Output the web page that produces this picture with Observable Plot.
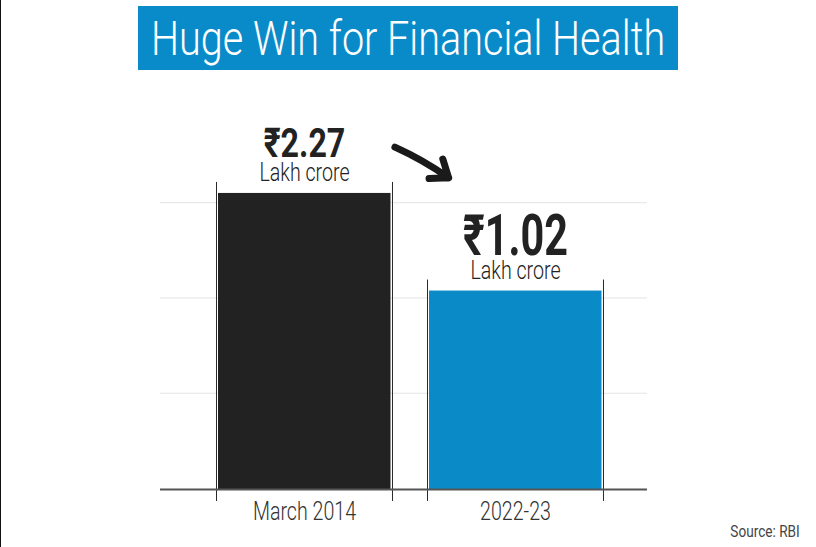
<!DOCTYPE html>
<html>
<head>
<meta charset="utf-8">
<script src="https://cdn.jsdelivr.net/npm/d3@7"></script>
<script src="https://cdn.jsdelivr.net/npm/@observablehq/plot@0.6"></script>
<style>
  html, body { margin: 0; padding: 0; background: #ffffff; width: 816px; height: 547px; overflow: hidden; }
  body { font-family: Roboto, "Noto Sans", sans-serif; }
  #page { position: relative; width: 816px; height: 547px; }
  #edge { position: absolute; left: 0; top: 0; width: 1px; height: 547px; background: #111; }
  #titlebox { position: absolute; left: 138px; top: 6px; width: 540px; height: 64px; background: #0a8bc9;
              display: flex; align-items: center; justify-content: center; overflow: hidden; }
  #title { color: #fff; font-size: 49px; line-height: 1; white-space: nowrap; font-weight: 300;
           transform: scaleX(0.808); transform-origin: 50% 50%; }
  #chart { position: absolute; left: 0; top: 76px; }
  #source { position: absolute; right: 16px; top: 521px; font-size: 17px; color: #444; white-space: nowrap;
            transform: scaleX(0.8); transform-origin: 100% 50%; }
</style>
</head>
<body>
<div id="page">
  <div id="edge"></div>
  <div id="titlebox"><div id="title"></div></div>
  <div id="chart"></div>
  <div id="source"></div>
</div>
<script>
// ---- data ----
const titleText = "Huge Win for Financial Health";
const sourceText = "Source: RBI";
const categories = ["March 2014", "2022-23"];
const values = [2.27, 1.02];
const valueLabels = ["₹2.27", "₹1.02"];
const unitLabels = ["Lakh crore", "Lakh crore"];
const gridValues = [0.24, 0.95, 2.13];
// annotation arrow: from above the first bar toward the second bar (value units)
const arrowFrom = [categories[0], 3.51];
const arrowTo = [categories[1], 1.60];

// ---- styles / layout ----
const barColors = ["#222222", "#0a8ac7"];
const COND = 0.785;
const COND_BIG = 0.725;
const W = 816, H = 455;
const bandRange = [215.5, 602.5];
const padInner = 0.166;
const half = d3.scaleBand(categories, bandRange).paddingInner(padInner).paddingOuter(0).bandwidth() / 2;

document.getElementById("title").textContent = titleText;
document.getElementById("source").textContent = sourceText;

const data = categories.map((c, i) => ({category: c, value: values[i], label: valueLabels[i], unit: unitLabels[i]}));
const first = data.filter((d, i) => i === 0);
const second = data.filter((d, i) => i === 1);

const chart = Plot.plot({
  width: W,
  height: H,
  marginLeft: 160,
  marginRight: 169,
  marginTop: 20,
  marginBottom: 42,
  style: {background: "transparent", fontFamily: "Roboto, 'Noto Sans', sans-serif"},
  x: {domain: categories, range: bandRange, paddingInner: padInner, paddingOuter: 0, label: null},
  y: {type: "sqrt", domain: [0, 4], axis: null},
  color: {domain: categories, range: barColors},
  marks: [
    Plot.ruleY(gridValues, {stroke: "#e4e4e4", strokeWidth: 1}),
    Plot.barY(data, {x: "category", y: "value", fill: "category", insetLeft: 2, insetRight: 1.5}),
    Plot.ruleX(data, {x: "category", y1: "value", y2: 0, dx: -half, insetTop: -11, insetBottom: -12, stroke: "#2a2a2a", strokeWidth: 1}),
    Plot.ruleX(data, {x: "category", y1: "value", y2: 0, dx: half, insetTop: -11, insetBottom: -12, stroke: "#2a2a2a", strokeWidth: 1}),
    Plot.ruleY([0], {stroke: "#555", strokeWidth: 2}),
    Plot.text(first, {x: "category", y: "value", text: "label", dy: -36, lineAnchor: "bottom", fontSize: 41, fontWeight: 700, fill: "#222"}),
    Plot.text(second, {x: "category", y: "value", text: "label", dy: -36.5, lineAnchor: "bottom", fontSize: 57, fontWeight: 700, fill: "#222"}),
    Plot.text(data, {x: "category", y: "value", text: "unit", dy: -12.5, lineAnchor: "bottom", fontSize: 25, fontWeight: 300, fill: "#222"}),
    Plot.arrow([{}], {
      x1: () => arrowFrom[0], y1: () => arrowFrom[1],
      x2: () => arrowTo[0], y2: () => arrowTo[1],
      bend: 22, insetStart: 94, insetEnd: 92,
      stroke: "#1a1a1a", strokeWidth: 7, strokeLinecap: "round", strokeLinejoin: "round", headLength: 4.2, headAngle: 75
    }),
    Plot.axisX({tickSize: 0, tickPadding: 13, fontSize: 25, fontWeight: 300, fill: "#333"})
  ]
});
document.getElementById("chart").appendChild(chart);

// condense texts to mimic a condensed typeface
chart.querySelectorAll("text").forEach(t => {
  if (t.childElementCount === 0 && t.textContent) {
    const fs = parseFloat(t.parentNode.getAttribute("font-size") || "0");
    const k = fs >= 50 ? COND_BIG : COND;
    const w = t.getComputedTextLength();
    t.setAttribute("textLength", (w * k).toFixed(1));
    t.setAttribute("lengthAdjust", "spacingAndGlyphs");
  }
});
</script>
</body>
</html>
